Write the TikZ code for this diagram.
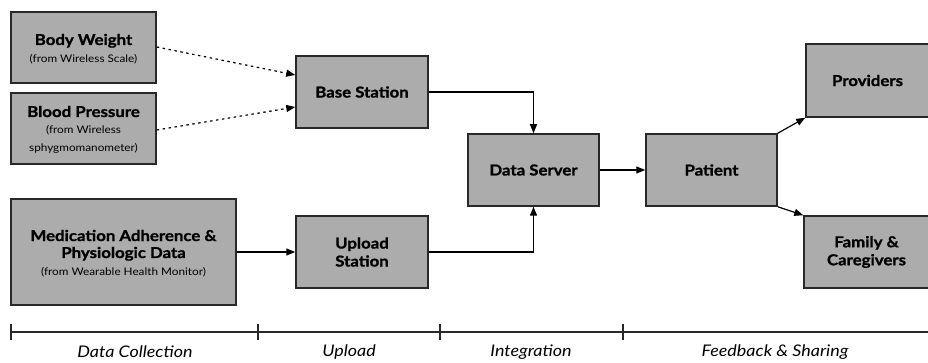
\documentclass[tikz,border=0pt]{standalone}
\usepackage{fontspec}
\setmainfont{Lato}[FakeStretch=1.12,BoldFeatures={FakeBold=1.2}]
\usetikzlibrary{arrows.meta}
\definecolor{boxgray}{RGB}{172,172,172}
\definecolor{edge}{RGB}{40,40,40}
\newcommand{\mainfs}{\fontsize{15}{18}\selectfont\bfseries}
\newcommand{\subfs}{\fontsize{10.5}{12}\selectfont}
\begin{document}
\begin{tikzpicture}[x=1pt,y=-1pt,
  box/.style={draw=edge,line width=1.5pt,fill=boxgray,align=center,inner sep=0pt,font=\mainfs},
  conn/.style={line width=1.2pt,-{Triangle[length=9pt,width=7pt]}},
  dotconn/.style={conn,dash pattern=on 2.5pt off 3.5pt},
  mtxt/.style={anchor=base,inner sep=0pt,font=\mainfs},
  stxt/.style={anchor=base,inner sep=0pt,font=\subfs},
  phase/.style={font=\fontsize{16}{18}\selectfont\itshape}]
\useasboundingbox (0,0) rectangle (928,363);
% boxes
\node[box,minimum width=145pt,minimum height=71pt] (bw) at (83.5,47.5) {};
\node[box,minimum width=145pt,minimum height=71pt] (bp) at (83.5,128.5) {};
\node[box,minimum width=225pt,minimum height=106pt] (med) at (123.5,252) {};
\node[box,minimum width=132pt,minimum height=72pt] (bs) at (362,92) {Base Station};
\node[box,minimum width=132pt,minimum height=72pt] (us) at (362,252) {Upload\\Station};
\node[box,minimum width=131pt,minimum height=72pt] (ds) at (533.5,170) {Data Server};
\node[box,minimum width=131pt,minimum height=72pt] (pt) at (711.5,170) {Patient};
\node[box,minimum width=123pt,minimum height=73pt] (pr) at (867.5,80.5) {Providers};
\node[box,minimum width=125pt,minimum height=72pt] (fc) at (866.5,252) {Family \&\\Caregivers};
% multi-size texts
\node[mtxt] (bwa) at (83.5,45) {Body Weight};
\node[stxt] (bwb) at (83.5,63) {(from Wireless Scale)};
\node[mtxt] (bpa) at (83.5,117) {Blood Pressure};
\node[stxt] (bpb) at (83.5,134) {(from Wireless};
\node[stxt] (bpc) at (83.5,152) {sphygmomanometer)};
\node[mtxt] (meda) at (123.5,241) {Medication Adherence \&};
\node[mtxt] (medb) at (123.5,258) {Physiologic Data};
\node[stxt] (medc) at (123.5,275) {(from Wearable Health Monitor)};
% connectors
\draw[dotconn] (bw.east |- 0,47) -- (bs.west |- 0,75);
\draw[dotconn] (bp.east |- 0,130) -- (bs.west |- 0,107);
\draw[conn] (bs.east) -| (ds.north);
\draw[conn] (us.east) -| (ds.south);
\draw[conn] (med.east) -- (us.west);
\draw[conn] (ds.east) -- (pt.west);
\draw[conn] (pt.north east) -- (pr.south west);
\draw[conn] (pt.south east) -- (fc.north west);
% timeline
\coordinate (t0) at (11,332);
\coordinate (t1) at (258,332);
\coordinate (t2) at (440,332);
\coordinate (t3) at (623,332);
\coordinate (t4) at (928,332);
\draw[line width=1.3pt,edge] (t0) -- (t4);
\foreach \c in {t0,t1,t2,t3} \draw[line width=1.1pt,edge] ([yshift=-8pt]\c) -- ([yshift=8pt]\c);
\node[phase] (l1) at (135,352) {Data Collection};
\node[phase] (l2) at (349,352) {Upload};
\node[phase] (l3) at (531,352) {Integration};
\node[phase] (l4) at (775,352) {Feedback \& Sharing};
\end{tikzpicture}
\end{document}
